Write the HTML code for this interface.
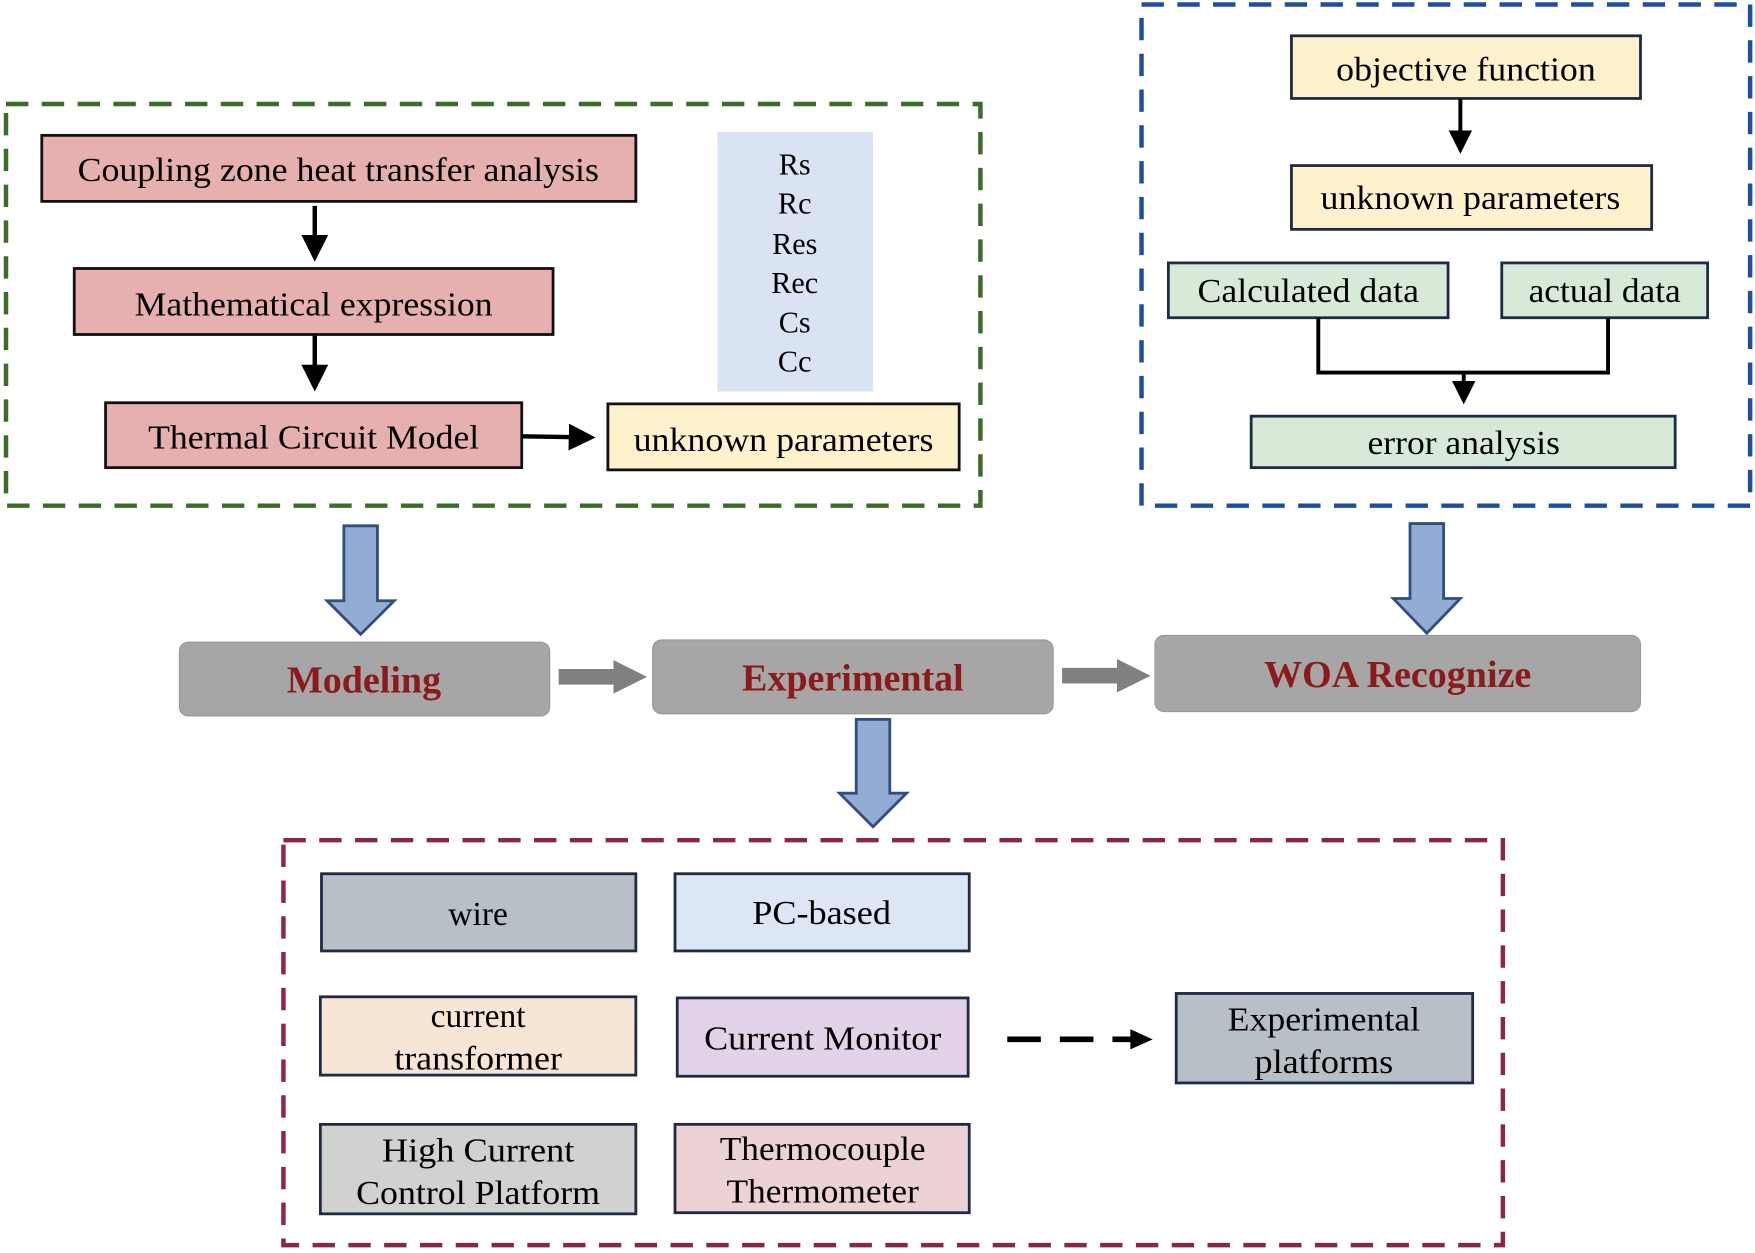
<!DOCTYPE html>
<html><head><meta charset="utf-8"><style>html,body{margin:0;padding:0;background:#fff}svg{display:block}</style></head>
<body>
<svg width="1755" height="1253" viewBox="0 0 1568 1120" xmlns="http://www.w3.org/2000/svg" font-family="'Liberation Serif', serif">
<defs>
<marker id="ah" markerWidth="6" markerHeight="6" refX="5" refY="3" orient="auto" markerUnits="strokeWidth"><path d="M0,0 L6,3 L0,6 z" fill="#000"/></marker>
</defs>
<!-- green dashed -->
<rect x="5" y="93" width="871" height="359" fill="none" stroke="#3d6b2a" stroke-width="4" stroke-dasharray="20,12"/>
<g stroke="#111" stroke-width="2.5" font-size="30" text-anchor="middle">
<rect x="37" y="121" width="531" height="59" fill="#e6b0b0"/>
<rect x="66" y="240" width="428" height="59" fill="#e6b0b0"/>
<rect x="94" y="360" width="372" height="58" fill="#e6b0b0"/>
<rect x="543" y="361" width="314" height="59" fill="#fef2cc"/>
</g>
<g font-size="30" text-anchor="middle" fill="#000">
<text x="302" y="162" textLength="466" lengthAdjust="spacingAndGlyphs">Coupling zone heat transfer analysis</text>
<text x="280" y="282" textLength="320" lengthAdjust="spacingAndGlyphs">Mathematical expression</text>
<text x="280" y="401" textLength="296" lengthAdjust="spacingAndGlyphs">Thermal Circuit Model</text>
<text x="700" y="403" textLength="268" lengthAdjust="spacingAndGlyphs">unknown parameters</text>
</g>
<g stroke="#000" stroke-width="4" fill="none">
<line x1="281" y1="184" x2="281" y2="230" marker-end="url(#ah)"/>
<line x1="281" y1="300" x2="281" y2="346" marker-end="url(#ah)"/>
<line x1="466" y1="390" x2="528" y2="391" marker-end="url(#ah)"/>
</g>
<rect x="641" y="118" width="139" height="232" fill="#dae3f3"/>
<g font-size="27" text-anchor="middle">
<text x="710" y="156">Rs</text><text x="710" y="191">Rc</text><text x="710" y="227">Res</text><text x="710" y="262">Rec</text><text x="710" y="297">Cs</text><text x="710" y="332">Cc</text>
</g>
<!-- blue dashed -->
<rect x="1020" y="4" width="544" height="448" fill="none" stroke="#1f4e9c" stroke-width="4" stroke-dasharray="20,12"/>
<g stroke="#1f2a44" stroke-width="2.5">
<rect x="1154" y="32" width="312" height="56" fill="#fef2cc"/>
<rect x="1154" y="148" width="322" height="57" fill="#fef2cc"/>
<rect x="1044" y="235" width="250" height="49" fill="#d8e9d8"/>
<rect x="1342" y="235" width="184" height="49" fill="#d8e9d8"/>
<rect x="1118" y="372" width="379" height="46" fill="#d8e9d8"/>
</g>
<g font-size="30" text-anchor="middle">
<text x="1310" y="72" textLength="232" lengthAdjust="spacingAndGlyphs">objective function</text>
<text x="1314" y="187" textLength="268" lengthAdjust="spacingAndGlyphs">unknown parameters</text>
<text x="1169" y="270" textLength="198" lengthAdjust="spacingAndGlyphs">Calculated data</text>
<text x="1434" y="270" textLength="136" lengthAdjust="spacingAndGlyphs">actual data</text>
<text x="1308" y="406" textLength="172" lengthAdjust="spacingAndGlyphs">error analysis</text>
</g>
<g stroke="#000" stroke-width="3.5" fill="none">
<line x1="1305" y1="88" x2="1305" y2="134" marker-end="url(#ah)"/>
<polyline points="1178,284 1178,333 1437,333 1437,284"/>
<line x1="1308" y1="333" x2="1308" y2="358" marker-end="url(#ah)"/>
</g>
<!-- block arrows -->
<g fill="#93acd3" stroke="#2f4f7f" stroke-width="2.5">
<path d="M307,470 H337 V537 H352 L322,567 L292,537 H307 Z"/>
<path d="M1260,468 H1290 V535 H1305 L1275,566 L1245,535 H1260 Z"/>
<path d="M765,643 H795 V709 H810 L780,739 L750,709 H765 Z"/>
</g>
<!-- gray boxes -->
<g fill="#a6a6a6" stroke="#999" stroke-width="1">
<rect x="160" y="574" width="331" height="66" rx="8"/>
<rect x="583" y="572" width="358" height="66" rx="8"/>
<rect x="1032" y="568" width="434" height="68" rx="8"/>
</g>
<g font-size="34" font-weight="bold" fill="#8b1a1a" text-anchor="middle">
<text x="325" y="619">Modeling</text>
<text x="762" y="617">Experimental</text>
<text x="1249" y="614">WOA Recognize</text>
</g>
<g fill="#808080">
<path d="M499,598 H548 V590 L578,605 L548,620 V612 H499 Z"/>
<path d="M949,597 H998 V589 L1028,604 L998,619 V611 H949 Z"/>
</g>
<!-- red dashed -->
<rect x="253" y="751" width="1090" height="362" fill="none" stroke="#8b2742" stroke-width="4" stroke-dasharray="20,12"/>
<g stroke="#1f2a44" stroke-width="2.5">
<rect x="287" y="781" width="281" height="69" fill="#b7c0c7"/>
<rect x="603" y="781" width="263" height="69" fill="#dde6f5"/>
<rect x="286" y="891" width="282" height="70" fill="#f7e6d5"/>
<rect x="605" y="892" width="260" height="70" fill="#e3d3e8"/>
<rect x="286" y="1005" width="282" height="80" fill="#d0d2cf"/>
<rect x="603" y="1005" width="263" height="79" fill="#ecd2d5"/>
<rect x="1051" y="888" width="265" height="80" fill="#b7c0c7"/>
</g>
<g font-size="30" text-anchor="middle">
<text x="427" y="827">wire</text>
<text x="734" y="826" textLength="124" lengthAdjust="spacingAndGlyphs">PC-based</text>
<text x="427" y="918">current</text>
<text x="427" y="956" textLength="150" lengthAdjust="spacingAndGlyphs">transformer</text>
<text x="735" y="938" textLength="212" lengthAdjust="spacingAndGlyphs">Current Monitor</text>
<text x="427" y="1038" textLength="172" lengthAdjust="spacingAndGlyphs">High Current</text>
<text x="427" y="1076" textLength="218" lengthAdjust="spacingAndGlyphs">Control Platform</text>
<text x="735" y="1037" textLength="184" lengthAdjust="spacingAndGlyphs">Thermocouple</text>
<text x="735" y="1075" textLength="172" lengthAdjust="spacingAndGlyphs">Thermometer</text>
<text x="1183" y="921" textLength="172" lengthAdjust="spacingAndGlyphs">Experimental</text>
<text x="1183" y="959" textLength="124" lengthAdjust="spacingAndGlyphs">platforms</text>
</g>
<line x1="900" y1="929" x2="1012" y2="929" stroke="#000" stroke-width="5" stroke-dasharray="30,17"/>
<path d="M1010,920 L1030,929 L1010,938 Z" fill="#000"/>
</svg>
</body></html>
